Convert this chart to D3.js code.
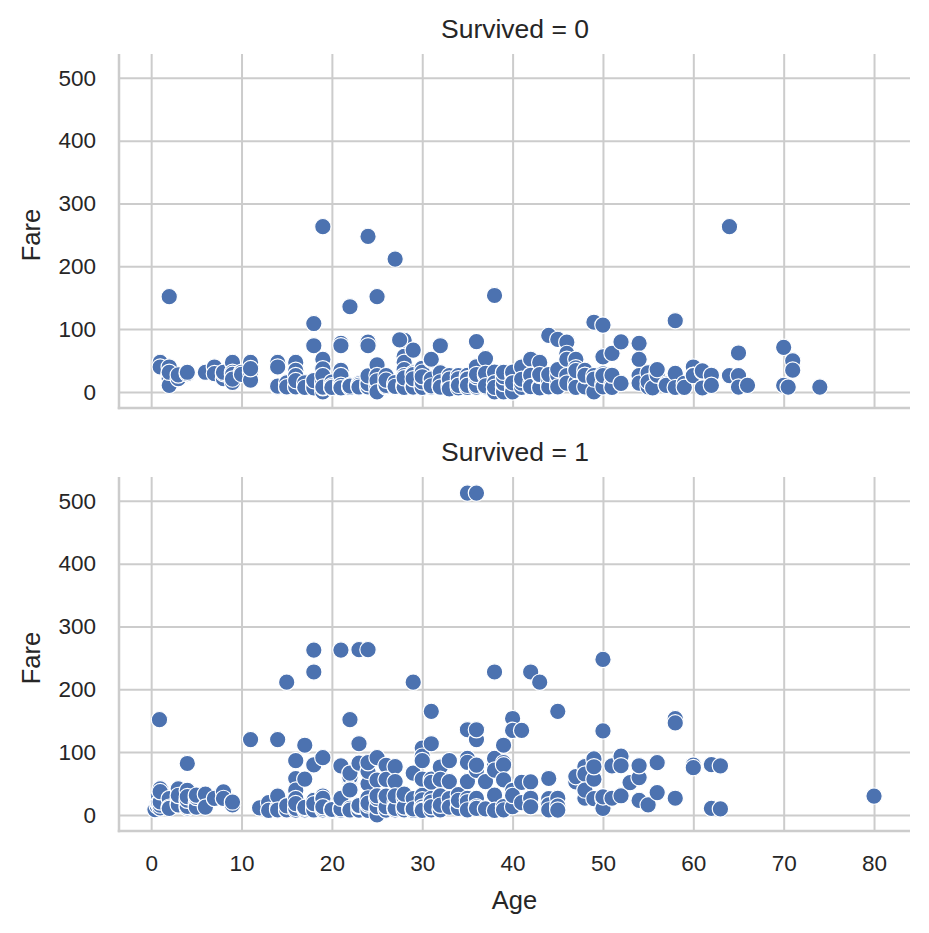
<!DOCTYPE html>
<html>
<head>
<meta charset="utf-8">
<script src="https://cdn.jsdelivr.net/npm/d3@7"></script>
<style>
  html, body { margin: 0; padding: 0; background: #fff; }
  svg { display: block; }
  text { font-family: "Liberation Sans", Arial, sans-serif; fill: #262626; }
</style>
</head>
<body>
<svg id="chart" width="929" height="933"></svg>
<script>
// ---------------- data ----------------
const xTicks = [0, 10, 20, 30, 40, 50, 60, 70, 80];
const yTicks = [0, 100, 200, 300, 400, 500];
const panelTitles = ["Survived = 0", "Survived = 1"];
const xLabel = "Age";
const yLabel = "Fare";

// [Age, Fare] — Survived = 0
const survived0 = [
  [1,46.9],[1,39.7],[2,39.7],[2,29.1],[2,27.9],[2,21.1],[2,10.5],[2,151.55],[2,31.3],[3,21.1],[3,27],
  [4,29.1],[4,31.3],[6,31.3],[7,39.7],[7,29.1],[8,21.1],[8,29.1],[8,31.3],[9,46.9],[9,31.3],[9,27.9],
  [9,15.2],[9,20.5],[10,31.3],[10,27.9],[11,46.9],[11,31.3],[11,18.8],[11,37],
  [14,7.85],[14,46.9],[14,39.7],[14,9.2],[15,7.2],[15,14.5],[15,8.03],
  [16,7.75],[16,8.05],[16,39.7],[16,46.9],[16,34.4],[16,26],[16,18],
  [17,7.9],[17,8.66],[17,14.5],[17,7.1],
  [18,7.75],[18,108.9],[18,73.5],[18,11.5],[18,8.05],[18,14.45],[18,17.8],[18,6.5],[18,18],
  [19,263],[19,52],[19,7.9],[19,14.5],[19,8.05],[19,0],[19,10.5],[19,36.75],[19,6.75],[19,16.1],[19,26],[19,7.65],
  [20,7.9],[20,7.05],[20,8.05],[20,9.2],[20,15.7],[20,9.8],[20,7.2],
  [21,77.3],[21,73.5],[21,34.4],[21,11.5],[21,7.9],[21,8.05],[21,7.25],[21,16.1],[21,26],[21,10.5],[21,6.5],
  [22,135.6],[22,8.05],[22,9],[22,7.8],[22,7.25],[22,10.5],[22,9.35],
  [23,13],[23,7.85],[23,10.5],[23,7.8],
  [24,247.5],[24,79.2],[24,73.5],[24,16.1],[24,7.5],[24,8.05],[24,13],[24,25.5],
  [25,151.55],[25,43],[25,7.25],[25,26],[25,13],[25,7.9],[25,17.8],[25,0],
  [26,7.9],[26,8.66],[26,14.45],[26,10.5],[26,25.9],[26,18.8],
  [27,211.5],[27,12.5],[27,7.8],[27,13],[27,15],[27,8.7],
  [28,82.17],[27.5,82.8],[28,56.5],[28,47.1],[28,35.5],[28,26],[28,7.9],[28,13],[28,9.5],[28,7.25],[28,22.5],
  [29,66.6],[29,30],[29,7.9],[29,10.5],[29,7.75],[29,27.7],[29,21],
  [30,37.7],[30,27.7],[30,13],[30,8.05],[30,7.2],[30,31.4],[30,16.1],[30,24.15],
  [31,50.5],[31,52],[31,18],[31,7.75],[31,10.5],[31,20.5],[31,9.5],
  [32,73.5],[32,30.5],[32,7.9],[32,8.05],[32,13],[32,15.85],[32,7.55],
  [33,26],[33,7.9],[33,12.3],[33,9.5],[33,20.5],[33,5],
  [34,26],[34,13],[34,8.05],[34,14.4],[34,21],[34,6.5],[34,10.5],
  [35,26.3],[35,8.05],[35,7.1],[35,21],[35,20.25],[35,10.5],
  [36,80.1],[36,40.1],[36,26],[36,12.9],[36,7.5],[36,10.5],[36,24.15],[36,27.75],
  [37,53.1],[37,26],[37,7.9],[37,29.7],[37,9.6],
  [38,153.5],[38,0],[38,7.9],[38,31.4],[38,14.5],[38,7.25],
  [39,29.7],[39,26],[39,7.9],[39,0],[39,13.4],[39,24.15],[39,31.3],
  [40,27.7],[40,7.2],[40,9.5],[40,15.5],[40,0],[40,31.4],[40,14.5],
  [41,39.7],[41,15.5],[41,7.1],[41,14.1],[41,20.2],
  [42,52],[42,7.55],[42,13],[42,27],[42,26.55],[42,8.4],
  [43,46.9],[43,8.05],[43,6.45],[43,26.25],[43,27.7],
  [44,90],[44,26],[44,8.05],[44,16.1],[44,7.9],[44,27.7],
  [45,83.5],[45,7.75],[45,14.45],[45,26.5],[45,35.5],[45,8.05],
  [46,79.2],[46,61.2],[46,52],[46,26],[46,14.1],
  [47,52],[47,38.5],[47,9],[47,15],[47,7.25],[47,34],
  [48,34.4],[48,7.85],[48,25.9],[48,26.5],
  [49,110.9],[49,0],[49,26],[49,20.5],
  [50,106.4],[50,55.9],[50,28.7],[50,13],[50,8.05],[50,26],
  [51,61.4],[51,12.5],[51,7.05],[51,26.55],
  [52,79.65],[52,13.5],
  [54,77.3],[54,51.9],[54,26],[54,14],
  [55,30.5],[55,8.05],[55,16],[55.5,6.4],
  [56,30.7],[56,26.55],[56,35.5],
  [57,12.35],[57,10.5],
  [58,113.3],[58,29.7],[58,7.05],
  [59,13.5],[59,7.25],
  [60,39.7],[60,26.55],[60,26],
  [61,32.3],[61,6.24],[61,33.5],
  [62,26.55],[62,10.5],
  [64,263],[64,26],
  [65,61.98],[65,26],[65,7.75],[66,10.5],
  [70,71],[70,10.5],[70.5,7.75],
  [71,49.5],[71,34.65],
  [74,7.775]
];

// [Age, Fare] — Survived = 1
const survived1 = [
  [0.42,8.5],[0.67,14.5],[0.75,19.26],[0.75,19.26],[0.83,29],[0.83,18.75],[0.92,151.55],
  [1,11.13],[1,15.74],[1,39],[1,41.58],[1,20.6],[1,37],
  [2,26],[2,12.29],[2,10.46],
  [3,26],[3,41.58],[3,18.75],[3,15.9],[3,31],
  [4,16.7],[4,39],[4,22.03],[4,11.13],[4,13.42],[4,23.45],[4,81.86],[4,29.1],
  [5,19.26],[5,12.48],[5,27.75],[5,31.39],
  [6,33],[6,12.48],[7,26.25],[8,36.75],[8,26.25],[9,15.9],[9,20.53],
  [11,120],[12,11.24],[13,19.5],[13,7.23],
  [14,11.24],[14,120],[14,30.07],[14,7.85],
  [15,211.3],[15,7.23],[15,14.45],[15,8.03],[15,14.45],
  [16,86.5],[16,57.8],[16,39.4],[16,26],[16,7.75],[16,10.5],[16,18],
  [17,110.9],[17,57],[17,7.9],[17,10.5],[17,12],
  [18,262.4],[18,227.5],[18,79.65],[18,13],[18,9.84],[18,11.1],[18,23],[18,7.8],[18,17.8],
  [19,91.08],[19,26.3],[19,7.85],[19,30],[19,10.5],[19,26.28],[19,13],
  [20,9.85],[20,7.2],[20,8.66],
  [21,262.4],[21,77.96],[21,10.5],[21,7.75],[21,9.8],[21,26.5],
  [22,151.55],[22,49.5],[22,55],[22,59.4],[22,41.58],[22,7.75],[22,10.5],[22,7.8],[22,66.6],[22,39.7],
  [23,263],[23,113.3],[23,7.55],[23,82.3],[23,13.8],[23,15],
  [24,263],[24,49.5],[24,69.3],[24,83.16],[24,26],[24,13],[24,7.1],[24,15.85],[24,27],[24,18.75],
  [25,91.08],[25,26],[25,55.44],[25,7.9],[25,0],[25,13],[25,26.28],[25,30.5],
  [26,78.85],[26,56.5],[26,26],[26,7.9],[26,7.78],[26,13],[26,30],
  [27,76.73],[27,53.1],[27,21],[27,7.9],[27,13],[27,11.1],[27,10.5],[27,30.5],
  [28,26.55],[28,7.9],[28,13],[28,12.65],[28,33],
  [29,211.3],[29,10.5],[29,26],[29,7.05],[29,66.6],[29,9.5],
  [30,106.4],[30,93.5],[30,86.5],[30,56.9],[30,31],[30,13],[30,24.15],[30,12.48],[30,8.66],[30,7.23],
  [31,164.9],[31,113.3],[31,57],[31,52],[31,18],[31,26.25],[31,20.5],[31,7.9],[31,13],
  [32,76.3],[32,56.5],[32,30.5],[32,8.05],[32,7.85],[32,15.5],
  [33,86.5],[33,53.1],[33,26],[33,12.5],
  [34,26],[34,13],[34,32.5],[34,10.5],[34,23],
  [35,512.33],[35,135.6],[35,90],[35,83.48],[35,53.1],[35,26.29],[35,21],[35,7.9],
  [36,512.33],[36,120],[36,135.6],[36,71],[36,79.2],[36,26.39],[36,13],[36,10.5],
  [37,52.55],[37,9.59],[37,53.1],
  [38,227.5],[38,80],[38,90],[38,71.28],[38,31.39],[38,7.23],
  [39,110.9],[39,83.16],[39,79.65],[39,55.9],[39,13.4],[39,7.9],
  [40,153.5],[40,134.5],[40,39],[40,13],[40,31],
  [41,134.5],[41,51.86],[41,19.5],
  [42,227.5],[42,52.55],[42,26.55],[42,13],
  [43,211.3],[44,57.98],[44,26],[44,16.1],[44,7.9],
  [45,164.9],[45,26.55],[45,14.1],[45,7.75],
  [47,52.55],[47,61],
  [48,76.73],[48,65],[48,26.55],[48,39.6],
  [49,89.1],[49,56.9],[49,76.7],[49,25.9],
  [50,247.5],[50,133.65],[50,26],[50,10.5],[50,28.7],
  [51,77.96],[51,26.55],[52,93.5],[52,78.27],[52,30.5],[53,51.48],
  [54,59.4],[54,78.27],[54,23],[55,16],[56,83.16],[56,35.5],
  [58,153.46],[58,146.5],[58,26.55],
  [60,79.2],[60,75.25],[62,80],[62,10.5],[63,77.96],[63,9.59],
  [80,30]
];
const panelData = [survived0, survived1];

// ---------------- drawing ----------------
const svg = d3.select("#chart");
const left = 119, right = 910;
const panelTops = [54, 477];
const panelH = 354;
const gridColor = "#cccccc";
const dotColor = "#4c72b0";

const x = d3.scaleLinear().domain([-3.56, 83.98]).range([left, right]);

panelData.forEach((data, i) => {
  const top = panelTops[i];
  const bottom = top + panelH;
  const y = d3.scaleLinear().domain([-25.6, 537.9]).range([bottom, top]);
  const g = svg.append("g");

  // vertical grid
  const gx = g.append("g")
    .attr("transform", `translate(0,${bottom})`)
    .call(d3.axisBottom(x).tickValues(xTicks).tickSize(-(bottom - top)).tickFormat(""));
  gx.select(".domain").remove();
  gx.selectAll("line").attr("stroke", gridColor).attr("stroke-width", 2);

  // horizontal grid
  const gy = g.append("g")
    .attr("transform", `translate(${left},0)`)
    .call(d3.axisLeft(y).tickValues(yTicks).tickSize(-(right - left)).tickFormat(""));
  gy.select(".domain").remove();
  gy.selectAll("line").attr("stroke", gridColor).attr("stroke-width", 2);

  // spines
  g.append("line").attr("x1", left).attr("x2", left).attr("y1", top).attr("y2", bottom + 1.25)
    .attr("stroke", gridColor).attr("stroke-width", 2.5);
  g.append("line").attr("x1", left - 1.25).attr("x2", right).attr("y1", bottom).attr("y2", bottom)
    .attr("stroke", gridColor).attr("stroke-width", 2.5);

  // y tick labels
  const yl = g.append("g")
    .attr("transform", `translate(${left},0)`)
    .call(d3.axisLeft(y).tickValues(yTicks).tickSize(0).tickPadding(23));
  yl.select(".domain").remove();
  yl.selectAll("text").style("font-size", "22.5px").style("font-family", "'Liberation Sans', Arial, sans-serif").attr("fill", "#262626");

  // x tick labels (only bottom panel)
  if (i === panelData.length - 1) {
    const xl = g.append("g")
      .attr("transform", `translate(0,${bottom})`)
      .call(d3.axisBottom(x).tickValues(xTicks).tickSize(0).tickPadding(24));
    xl.select(".domain").remove();
    xl.selectAll("text").style("font-size", "22.5px").style("font-family", "'Liberation Sans', Arial, sans-serif").attr("fill", "#262626");
    g.append("text").attr("x", (left + right) / 2).attr("y", bottom + 78)
      .attr("text-anchor", "middle").style("font-size", "25.5px").text(xLabel);
  }

  // y label
  g.append("text")
    .attr("transform", `translate(40,${(top + bottom) / 2 + 4}) rotate(-90)`)
    .attr("text-anchor", "middle").style("font-size", "25.5px").text(yLabel);

  // title
  g.append("text").attr("x", (left + right) / 2 + 0.5).attr("y", top - 16.5)
    .attr("text-anchor", "middle").style("font-size", "26.5px").text(panelTitles[i]);

  // points
  g.append("g").selectAll("circle").data(data).join("circle")
    .attr("cx", d => x(d[0])).attr("cy", d => y(d[1])).attr("r", 8.2)
    .attr("fill", dotColor).attr("stroke", "#ffffff").attr("stroke-width", 1.2);
});
</script>
</body>
</html>
